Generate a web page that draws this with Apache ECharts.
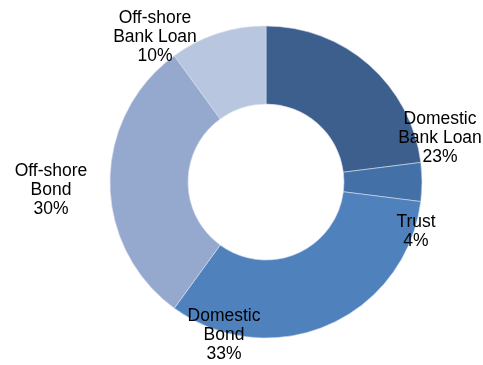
<!DOCTYPE html>
<html>
<head>
<meta charset="utf-8">
<script src="https://cdn.jsdelivr.net/npm/echarts@6/dist/echarts.min.js"></script>
<style>
  html, body { margin: 0; padding: 0; background: #fff; }
  #main { width: 483px; height: 365px; }
</style>
</head>
<body>
<div id="main"></div>
<script>
// data
let categories = ["Domestic\nBank Loan", "Trust", "Domestic\nBond", "Off-shore\nBond", "Off-shore\nBank Loan"]
let shares = [23, 4, 33, 30, 10]
let colors = ["#3C5F8E", "#4470A8", "#4F81BD", "#95A9CF", "#B9C6DF"]

// where each label sits (centre of the text block)
let labelPos = [[440, 138], [416, 232], [224, 335], [51, 190], [155, 37]]

let myChart = echarts.init(document.getElementById('main'))

let option = {
  animation: false,
  series: [
    {
      type: 'pie',
      center: [266, 182],
      radius: [78, 156],
      startAngle: 90,
      clockwise: true,
      avoidLabelOverlap: false,
      data: categories.map((c, i) => ({
        name: c,
        value: shares[i],
        itemStyle: { color: colors[i] }
      })),
      itemStyle: { borderColor: '#d5deec', borderWidth: 0.6 },
      label: {
        show: true,
        position: 'outside',
        overflow: 'none',
        edgeDistance: 0,
        bleedMargin: 0,
        formatter: p => p.name + '\n' + p.value + '%',
        fontFamily: 'Liberation Sans, Arial, sans-serif',
        fontSize: 17.5,
        lineHeight: 19,
        color: '#000',
        align: 'center'
      },
      labelLine: { show: false },
      labelLayout: params => ({
        x: labelPos[params.dataIndex][0],
        y: labelPos[params.dataIndex][1],
        align: 'center',
        verticalAlign: 'middle',
        hideOverlap: false,
        moveOverlap: null
      }),
      emphasis: { disabled: true }
    }
  ]
}

myChart.setOption(option)
</script>
</body>
</html>
